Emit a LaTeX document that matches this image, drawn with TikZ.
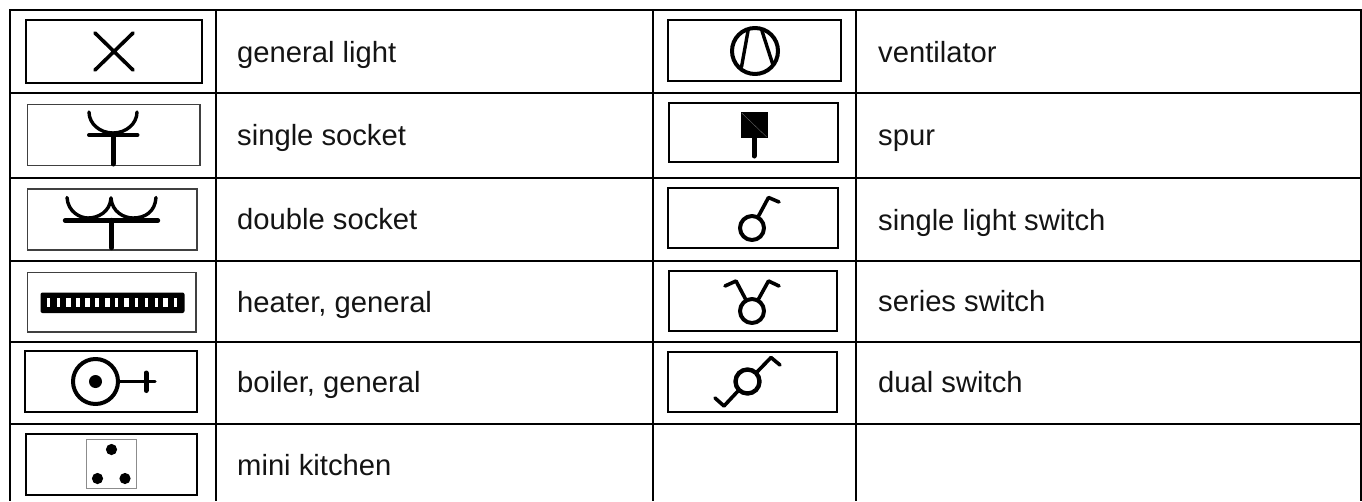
\documentclass[tikz,border=0pt]{standalone}
\usepackage{fontspec}
\setmainfont{Liberation Sans}
\tikzset{x=1pt,y=-1pt,
 grid/.style={line width=2pt,black},
 sym/.style={line width=3pt,black,line cap=round,line join=round},
 frame/.style={line width=1.6pt,black!75},
 frameb/.style={line width=2pt,black},
 lab/.style={anchor=base west,font=\fontsize{29.2}{33}\selectfont,text=black!92,inner sep=0pt}}
\begin{document}
\begin{tikzpicture}
\useasboundingbox (0,0) rectangle (1362,501);
\fill[white] (0,0) rectangle (1362,501);
% grid
\foreach \y in {10,92.5,178,261,342,424}{\draw[grid] (10,\y) -- (1362,\y);}
\foreach \x in {10,216,653,856,1361}{\draw[grid] (\x,9) -- (\x,501);}
% labels
\node[lab] (l1) at (237,62) {general light};
\node[lab] (l2) at (237,145.7) {single socket};
\node[lab] (l3) at (237,229.5) {double socket};
\node[lab] (l4) at (237,312) {heater, general};
\node[lab] (l5) at (237,392.7) {boiler, general};
\node[lab] (l6) at (237,475) {mini kitchen};
\node[lab] (r1) at (878,62) {ventilator};
\node[lab] (r2) at (878,145.7) {spur};
\node[lab] (r3) at (878,230) {single light switch};
\node[lab] (r4) at (878,311.7) {series switch};
\node[lab] (r5) at (878,392.7) {dual switch};
% general light
\draw[frameb] (26,20) rectangle (202,82.5);
\draw[sym,line width=3.6pt] (95,33) -- (133,70) (133,33) -- (95,70);
% single socket
\draw[frame] (27.5,104.5) rectangle (200,165.5);
\draw[sym,line width=3.4pt] (89,112) arc[start angle=180,end angle=0,x radius=24,y radius=21];
\draw[sym,line width=4pt] (89,135) -- (137.5,135);
\draw[sym,line width=5pt] (113,135) -- (113,164);
% double socket
\draw[frame] (27.5,189) rectangle (197,250);
\draw[sym,line width=3.4pt] (67,197.5) .. controls (68,212) and (80,218) .. (88,218) .. controls (98,218) and (110,212) .. (111,198);
\draw[sym,line width=3.4pt] (111,198) .. controls (112,212) and (124,218) .. (133,218) .. controls (145,218) and (155,212) .. (156,197.5);
\draw[sym,line width=4.4pt] (65,220.5) -- (158,220.5);
\draw[sym,line width=4.4pt] (111.5,220) -- (111.5,248);
% heater
\draw[frame] (27.5,272.5) rectangle (196,332);
\fill[black,rounded corners=2pt] (40.5,292.5) rectangle (184.5,313);
\foreach \x/\w in {48/3,58/3,68/5,78/3.5,87.7/5,97/3.5,107/5,116.7/3,126.7/5,136.3/3.5,146.7/3,156/3,165.7/5,175.3/3.5}{
 \fill[white] (\x-\w/2,298) rectangle (\x+\w/2,306.7);}
% boiler
\draw[frameb] (25,351) rectangle (197,412);
\draw[sym,line width=4pt] (95.5,381.5) circle[radius=22.5];
\fill[black] (95.5,381.5) circle[radius=6.5];
\draw[sym,line width=3.4pt] (119,381.5) -- (155,381.5);
\draw[sym,line width=5pt] (146,373) -- (146,390.5);
% mini kitchen
\draw[frameb] (25.5,434) rectangle (197,495) ;
\draw[line width=.8pt,black!45] (86.5,439) rectangle (136.5,488.5);
\fill[black] (111.5,449.5) circle[radius=5.6] (97.5,478.5) circle[radius=5.6] (125,478.5) circle[radius=5.6];
% ventilator
\draw[frameb] (668,20) rectangle (841,81);
\draw[sym,line width=4pt] (755,51) circle[radius=23];
\draw[sym,line width=3.4pt] (748,31) -- (741.5,67) (762,31) -- (773,65);
% spur
\draw[frame,black] (669,103) rectangle (838,162);
\fill[black] (740.5,112) rectangle (768,138);
\draw[line width=.4pt,black!60] (741.7,113) -- (766.7,137);
\draw[sym,line width=5pt] (754,138) -- (754,156);
% single light switch
\draw[frameb] (668,188) rectangle (838,248);
\draw[sym,line width=4pt] (752,228) circle[radius=12];
\draw[sym,line width=3.6pt] (758,217) -- (768.5,197.5) -- (779,202);
% series switch
\draw[frameb] (669,271) rectangle (837,331);
\draw[sym,line width=4pt] (752,311) circle[radius=12];
\draw[sym,line width=3.6pt] (758,300) -- (768.5,281) -- (779,286);
\draw[sym,line width=3.6pt] (746,300) -- (736,281) -- (725,286);
% dual switch
\draw[frameb] (668,351.5) rectangle (837,411.5);
\draw[sym,line width=4.4pt] (747.5,381.5) circle[radius=12];
\draw[sym,line width=3.6pt] (757,372) -- (771,357.5) -- (780,365);
\draw[sym,line width=3.6pt] (738,391) -- (724,406) -- (715,398);
\end{tikzpicture}
\end{document}
